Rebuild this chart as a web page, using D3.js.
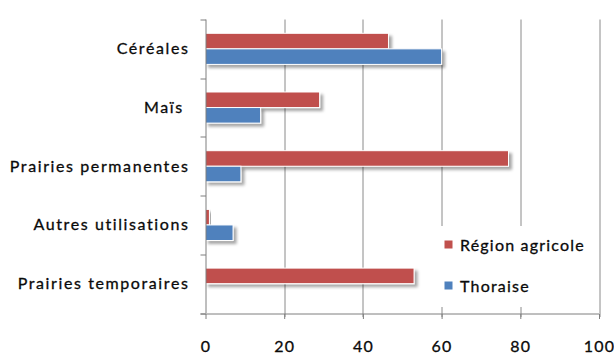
<!DOCTYPE html>
<html>
<head>
<meta charset="utf-8">
<script src="https://cdn.jsdelivr.net/npm/d3@7"></script>
<style>
  html, body { margin: 0; padding: 0; background: #fff; }
  svg { display: block; }
  text { font-family: Lato, "Open Sans", sans-serif; fill: #0a0a0a; stroke: #0a0a0a; stroke-width: 0.3px; }
</style>
</head>
<body>
<svg id="chart" width="614" height="354"></svg>
<script>
// Land use shares (%), by category
const categories = ["Céréales", "Maïs ", "Prairies permanentes", "Autres utilisations", "Prairies temporaires"];
const seriesNames = ["Région agricole", "Thoraise"];
const regionValues = [46.5, 29, 77, 1, 53];
const thoraiseValues = [60, 14, 9, 7, 0];
const xTicks = [0, 20, 40, 60, 80, 100];
const colors = ["#C0504D", "#4F81BD"];

const svg = d3.select("#chart");
const margin = { top: 19.5, right: 15, bottom: 41, left: 205.5 };
const height = 354;
const innerW = 599 - margin.left;
const innerH = height - margin.top - margin.bottom;

const defs = svg.append("defs");
const shadow = defs.append("filter").attr("id", "barShadow")
  .attr("x", "-10%").attr("y", "-30%").attr("width", "130%").attr("height", "190%");
shadow.append("feDropShadow")
  .attr("dx", 3).attr("dy", 3).attr("stdDeviation", 1.6)
  .attr("flood-color", "#000").attr("flood-opacity", 0.35);

const g = svg.append("g").attr("transform", `translate(${margin.left},${margin.top})`);

const x = d3.scaleLinear().domain([0, 100]).range([0, innerW]);
const y = d3.scaleBand().domain(categories).range([0, innerH]).paddingInner(0.47).paddingOuter(0.235);
const ySub = d3.scaleBand().domain(seriesNames).range([0, y.bandwidth()]);

const rows = categories.map((c, i) => ({ cat: c, vals: [regionValues[i], thoraiseValues[i]] }));

// vertical gridlines
g.append("g").selectAll("line").data(xTicks.slice(1)).join("line")
  .attr("x1", d => Math.round(x(d)) + 0.5).attr("x2", d => Math.round(x(d)) + 0.5)
  .attr("y1", 0).attr("y2", innerH + 4)
  .attr("stroke", "#8a8a8a").attr("stroke-width", 1);

// bars
const groups = g.append("g").selectAll("g").data(rows).join("g")
  .attr("transform", d => `translate(0,${y(d.cat)})`);
groups.selectAll("rect").data(d => d.vals.map((v, k) => ({ v, k })).filter(e => e.v > 0)).join("rect")
  .attr("x", 0)
  .attr("y", e => ySub(seriesNames[e.k]))
  .attr("width", e => x(e.v))
  .attr("height", ySub.bandwidth())
  .attr("fill", e => colors[e.k])
  .attr("stroke", "#fff").attr("stroke-width", 1)
  .attr("filter", "url(#barShadow)");

// left axis with ticks between categories
const bandEdges = d3.range(categories.length + 1).map(i => i * y.step());
const yAxisG = g.append("g");
yAxisG.append("line").attr("x1", 0.5).attr("x2", 0.5).attr("y1", 0).attr("y2", innerH)
  .attr("stroke", "#7f7f7f");
yAxisG.selectAll("line.tk").data(bandEdges).join("line").attr("class", "tk")
  .attr("x1", -5).attr("x2", 0.5)
  .attr("y1", d => Math.round(d) + 0.5).attr("y2", d => Math.round(d) + 0.5)
  .attr("stroke", "#7f7f7f");

// bottom axis
const xAxis = d3.axisBottom(x).tickValues(xTicks).tickSize(5).tickPadding(22).tickFormat(d3.format("d"));
const xAxisG = g.append("g").attr("transform", `translate(0,${Math.round(innerH) + 0.5})`).call(xAxis);
xAxisG.select(".domain").attr("stroke", "#7f7f7f").attr("d", `M-5,0H${innerW}`);
xAxisG.selectAll(".tick line").attr("stroke", "#7f7f7f");
xAxisG.selectAll(".tick text").attr("font-size", 16).attr("fill", "#0a0a0a")
  .attr("font-family", "Lato, 'Open Sans', sans-serif").attr("letter-spacing", 1.2);

// category labels
g.append("g").selectAll("text").data(categories).join("text")
  .attr("x", -16)
  .attr("y", d => y(d) + y.bandwidth() / 2 + 5.5)
  .attr("text-anchor", "end")
  .attr("font-size", 16)
  .attr("letter-spacing", 1.6)
  .attr("xml:space", "preserve")
  .text(d => d);

// legend
const legend = svg.append("g").attr("transform", "translate(437,226)");
legend.append("rect").attr("width", 158).attr("height", 81).attr("fill", "#fff");
const li = legend.selectAll("g").data(seriesNames).join("g")
  .attr("transform", (d, i) => `translate(0,${19 + i * 41})`);
li.append("rect").attr("x", 7.5).attr("y", -4.5).attr("width", 8).attr("height", 8)
  .attr("fill", (d, i) => colors[i]);
li.append("text").attr("x", 23).attr("y", 6).attr("font-size", 16)
  .attr("letter-spacing", 1.2).text(d => d);
</script>
</body>
</html>
